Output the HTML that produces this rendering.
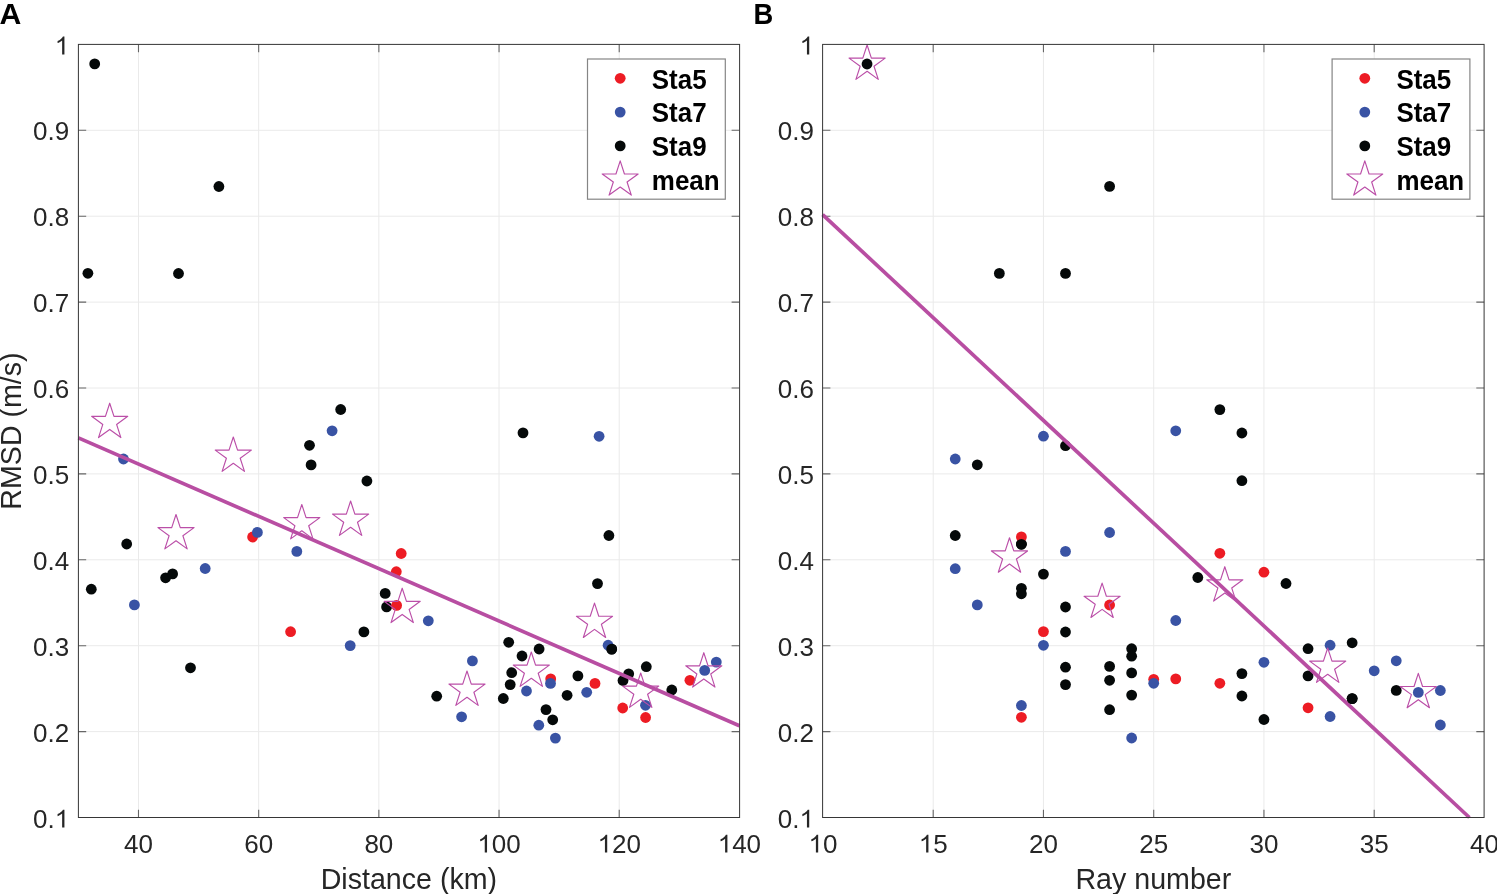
<!DOCTYPE html>
<html><head><meta charset="utf-8"><title>RMSD scatter</title>
<style>html,body{margin:0;padding:0;background:#fff;}body{width:1497px;height:894px;overflow:hidden;}svg{display:block;will-change:transform;font-family:"Liberation Sans",sans-serif;}</style>
</head><body>
<svg width="1497" height="894" viewBox="0 0 1497 894">
<rect x="0" y="0" width="1497" height="894" fill="#fff"/>
<path d="M138.49 44.4 V817.5 M258.67 44.4 V817.5 M378.85 44.4 V817.5 M499.04 44.4 V817.5 M619.22 44.4 V817.5 M78.4 731.6 H739.4 M78.4 645.7 H739.4 M78.4 559.8 H739.4 M78.4 473.9 H739.4 M78.4 388 H739.4 M78.4 302.1 H739.4 M78.4 216.2 H739.4 M78.4 130.3 H739.4" stroke="#eaeaea" stroke-width="1" fill="none"/>
<path d="M138.49 817.5 v-7.8 M138.49 44.4 v7.8 M258.67 817.5 v-7.8 M258.67 44.4 v7.8 M378.85 817.5 v-7.8 M378.85 44.4 v7.8 M499.04 817.5 v-7.8 M499.04 44.4 v7.8 M619.22 817.5 v-7.8 M619.22 44.4 v7.8 M78.4 731.6 h7.8 M739.4 731.6 h-7.8 M78.4 645.7 h7.8 M739.4 645.7 h-7.8 M78.4 559.8 h7.8 M739.4 559.8 h-7.8 M78.4 473.9 h7.8 M739.4 473.9 h-7.8 M78.4 388 h7.8 M739.4 388 h-7.8 M78.4 302.1 h7.8 M739.4 302.1 h-7.8 M78.4 216.2 h7.8 M739.4 216.2 h-7.8 M78.4 130.3 h7.8 M739.4 130.3 h-7.8" stroke="#666666" stroke-width="1.1" fill="none"/>
<g>
<circle cx="94.7" cy="63.9" r="5.4" fill="#050909"/>
<circle cx="218.9" cy="186.5" r="5.4" fill="#050909"/>
<circle cx="87.9" cy="273.3" r="5.4" fill="#050909"/>
<circle cx="178.5" cy="273.5" r="5.4" fill="#050909"/>
<circle cx="340.7" cy="409.5" r="5.4" fill="#050909"/>
<circle cx="309.5" cy="445.3" r="5.4" fill="#050909"/>
<circle cx="311.1" cy="464.9" r="5.4" fill="#050909"/>
<circle cx="366.9" cy="481" r="5.4" fill="#050909"/>
<circle cx="126.7" cy="544" r="5.4" fill="#050909"/>
<circle cx="523" cy="432.9" r="5.4" fill="#050909"/>
<circle cx="608.9" cy="535.5" r="5.4" fill="#050909"/>
<circle cx="91.3" cy="589.2" r="5.4" fill="#050909"/>
<circle cx="165.6" cy="577.8" r="5.4" fill="#050909"/>
<circle cx="172.6" cy="573.9" r="5.4" fill="#050909"/>
<circle cx="190.5" cy="667.8" r="5.4" fill="#050909"/>
<circle cx="363.9" cy="631.9" r="5.4" fill="#050909"/>
<circle cx="385.2" cy="593.4" r="5.4" fill="#050909"/>
<circle cx="386.6" cy="606.9" r="5.4" fill="#050909"/>
<circle cx="597.5" cy="583.6" r="5.4" fill="#050909"/>
<circle cx="508.7" cy="642.3" r="5.4" fill="#050909"/>
<circle cx="522" cy="656" r="5.4" fill="#050909"/>
<circle cx="511.7" cy="672.7" r="5.4" fill="#050909"/>
<circle cx="510.2" cy="684.6" r="5.4" fill="#050909"/>
<circle cx="436.7" cy="696.2" r="5.4" fill="#050909"/>
<circle cx="503.3" cy="698.5" r="5.4" fill="#050909"/>
<circle cx="539.1" cy="649" r="5.4" fill="#050909"/>
<circle cx="577.9" cy="675.9" r="5.4" fill="#050909"/>
<circle cx="567.1" cy="695.3" r="5.4" fill="#050909"/>
<circle cx="546" cy="709.6" r="5.4" fill="#050909"/>
<circle cx="552.7" cy="719.8" r="5.4" fill="#050909"/>
<circle cx="611.7" cy="649.1" r="5.4" fill="#050909"/>
<circle cx="628.7" cy="673.8" r="5.4" fill="#050909"/>
<circle cx="623" cy="680.5" r="5.4" fill="#050909"/>
<circle cx="646.3" cy="666.7" r="5.4" fill="#050909"/>
<circle cx="671.8" cy="690" r="5.4" fill="#050909"/>
<circle cx="252.6" cy="537" r="5.4" fill="#ed1c24"/>
<circle cx="401.2" cy="553.5" r="5.4" fill="#ed1c24"/>
<circle cx="396.3" cy="571.7" r="5.4" fill="#ed1c24"/>
<circle cx="396.6" cy="605.4" r="5.4" fill="#ed1c24"/>
<circle cx="290.6" cy="631.7" r="5.4" fill="#ed1c24"/>
<circle cx="550.7" cy="678.9" r="5.4" fill="#ed1c24"/>
<circle cx="595" cy="683.4" r="5.4" fill="#ed1c24"/>
<circle cx="622.7" cy="708" r="5.4" fill="#ed1c24"/>
<circle cx="645.6" cy="717.5" r="5.4" fill="#ed1c24"/>
<circle cx="689.9" cy="680.3" r="5.4" fill="#ed1c24"/>
<circle cx="123.5" cy="459" r="5.4" fill="#3953a4"/>
<circle cx="332.1" cy="430.8" r="5.4" fill="#3953a4"/>
<circle cx="257.4" cy="532.4" r="5.4" fill="#3953a4"/>
<circle cx="296.8" cy="551.4" r="5.4" fill="#3953a4"/>
<circle cx="205.2" cy="568.5" r="5.4" fill="#3953a4"/>
<circle cx="134.4" cy="604.9" r="5.4" fill="#3953a4"/>
<circle cx="350.2" cy="645.6" r="5.4" fill="#3953a4"/>
<circle cx="428.3" cy="620.8" r="5.4" fill="#3953a4"/>
<circle cx="599.1" cy="436.3" r="5.4" fill="#3953a4"/>
<circle cx="472.4" cy="660.9" r="5.4" fill="#3953a4"/>
<circle cx="526.5" cy="691" r="5.4" fill="#3953a4"/>
<circle cx="550.5" cy="683.4" r="5.4" fill="#3953a4"/>
<circle cx="586.7" cy="692.3" r="5.4" fill="#3953a4"/>
<circle cx="608.1" cy="645.2" r="5.4" fill="#3953a4"/>
<circle cx="645.5" cy="705.3" r="5.4" fill="#3953a4"/>
<circle cx="461.6" cy="716.8" r="5.4" fill="#3953a4"/>
<circle cx="538.8" cy="725.2" r="5.4" fill="#3953a4"/>
<circle cx="555.4" cy="738.1" r="5.4" fill="#3953a4"/>
<circle cx="704.7" cy="670.4" r="5.4" fill="#3953a4"/>
<circle cx="716.3" cy="662.1" r="5.4" fill="#3953a4"/>
</g>
<line x1="78.4" y1="437.9" x2="739.4" y2="725.7" stroke="#b84ea2" stroke-width="3.7"/>
<circle cx="611.7" cy="649.1" r="5.4" fill="#050909"/>
<path d="M109.7 403.2 L113.97 416.33 L127.77 416.33 L116.6 424.44 L120.87 437.57 L109.7 429.46 L98.53 437.57 L102.8 424.44 L91.63 416.33 L105.43 416.33 Z" fill="none" stroke="#bb4fa8" stroke-width="1.15" stroke-linejoin="round"/>
<path d="M233.3 437 L237.57 450.13 L251.37 450.13 L240.2 458.24 L244.47 471.37 L233.3 463.26 L222.13 471.37 L226.4 458.24 L215.23 450.13 L229.03 450.13 Z" fill="none" stroke="#bb4fa8" stroke-width="1.15" stroke-linejoin="round"/>
<path d="M176 514.5 L180.27 527.63 L194.07 527.63 L182.9 535.74 L187.17 548.87 L176 540.76 L164.83 548.87 L169.1 535.74 L157.93 527.63 L171.73 527.63 Z" fill="none" stroke="#bb4fa8" stroke-width="1.15" stroke-linejoin="round"/>
<path d="M301.8 504.5 L306.07 517.63 L319.87 517.63 L308.7 525.74 L312.97 538.87 L301.8 530.76 L290.63 538.87 L294.9 525.74 L283.73 517.63 L297.53 517.63 Z" fill="none" stroke="#bb4fa8" stroke-width="1.15" stroke-linejoin="round"/>
<path d="M350.6 501 L354.87 514.13 L368.67 514.13 L357.5 522.24 L361.77 535.37 L350.6 527.26 L339.43 535.37 L343.7 522.24 L332.53 514.13 L346.33 514.13 Z" fill="none" stroke="#bb4fa8" stroke-width="1.15" stroke-linejoin="round"/>
<path d="M402.2 588.2 L406.47 601.33 L420.27 601.33 L409.1 609.44 L413.37 622.57 L402.2 614.46 L391.03 622.57 L395.3 609.44 L384.13 601.33 L397.93 601.33 Z" fill="none" stroke="#bb4fa8" stroke-width="1.15" stroke-linejoin="round"/>
<path d="M467 671 L471.27 684.13 L485.07 684.13 L473.9 692.24 L478.17 705.37 L467 697.26 L455.83 705.37 L460.1 692.24 L448.93 684.13 L462.73 684.13 Z" fill="none" stroke="#bb4fa8" stroke-width="1.15" stroke-linejoin="round"/>
<path d="M531.3 652 L535.57 665.13 L549.37 665.13 L538.2 673.24 L542.47 686.37 L531.3 678.26 L520.13 686.37 L524.4 673.24 L513.23 665.13 L527.03 665.13 Z" fill="none" stroke="#bb4fa8" stroke-width="1.15" stroke-linejoin="round"/>
<path d="M594.5 603.1 L598.77 616.23 L612.57 616.23 L601.4 624.34 L605.67 637.47 L594.5 629.36 L583.33 637.47 L587.6 624.34 L576.43 616.23 L590.23 616.23 Z" fill="none" stroke="#bb4fa8" stroke-width="1.15" stroke-linejoin="round"/>
<path d="M640.7 673 L644.97 686.13 L658.77 686.13 L647.6 694.24 L651.87 707.37 L640.7 699.26 L629.53 707.37 L633.8 694.24 L622.63 686.13 L636.43 686.13 Z" fill="none" stroke="#bb4fa8" stroke-width="1.15" stroke-linejoin="round"/>
<path d="M703.8 652.7 L708.07 665.83 L721.87 665.83 L710.7 673.94 L714.97 687.07 L703.8 678.96 L692.63 687.07 L696.9 673.94 L685.73 665.83 L699.53 665.83 Z" fill="none" stroke="#bb4fa8" stroke-width="1.15" stroke-linejoin="round"/>
<rect x="78.4" y="44.4" width="661.2" height="773.1" fill="none" stroke="#363636" stroke-width="1.0"/>
<g font-size="26" fill="#262626"><text x="124.03" y="852.6">40</text><text x="244.21" y="852.6">60</text><text x="364.39" y="852.6">80</text><path transform="translate(477.35 852.6) scale(0.012695 -0.012124)" d="M763 0H583V1147Q518 1085 412.5 1023T223 930V1104Q374 1175 487 1276T647 1472H763V0Z"/><text x="491.81" y="852.6">00</text><path transform="translate(597.53 852.6) scale(0.012695 -0.012124)" d="M763 0H583V1147Q518 1085 412.5 1023T223 930V1104Q374 1175 487 1276T647 1472H763V0Z"/><text x="611.99" y="852.6">20</text><path transform="translate(717.71 852.6) scale(0.012695 -0.012124)" d="M763 0H583V1147Q518 1085 412.5 1023T223 930V1104Q374 1175 487 1276T647 1472H763V0Z"/><text x="732.17" y="852.6">40</text><text x="33.06" y="827.5">0.</text><path transform="translate(54.74 827.5) scale(0.012695 -0.012124)" d="M763 0H583V1147Q518 1085 412.5 1023T223 930V1104Q374 1175 487 1276T647 1472H763V0Z"/><text x="33.06" y="741.6">0.2</text><text x="33.06" y="655.7">0.3</text><text x="33.06" y="569.8">0.4</text><text x="33.06" y="483.9">0.5</text><text x="33.06" y="398">0.6</text><text x="33.06" y="312.1">0.7</text><text x="33.06" y="226.2">0.8</text><text x="33.06" y="140.3">0.9</text><path transform="translate(54.74 54.4) scale(0.012695 -0.012124)" d="M763 0H583V1147Q518 1085 412.5 1023T223 930V1104Q374 1175 487 1276T647 1472H763V0Z"/></g>
<rect x="587.5" y="59" width="137.8" height="140.2" fill="#fff" stroke="#858585" stroke-width="1.2"/>
<circle cx="620.2" cy="78.3" r="5.4" fill="#ed1c24"/>
<circle cx="620.2" cy="112.1" r="5.4" fill="#3953a4"/>
<circle cx="620.2" cy="145.9" r="5.4" fill="#050909"/>
<path d="M620.2 160.9 L624.44 173.96 L638.17 173.96 L627.07 182.03 L631.31 195.09 L620.2 187.02 L609.09 195.09 L613.33 182.03 L602.23 173.96 L615.96 173.96 Z" fill="none" stroke="#bb4fa8" stroke-width="1.15" stroke-linejoin="round"/>
<g font-size="27.2" font-weight="bold" fill="#000"><text transform="translate(651.8 88.6) scale(0.955 1)">Sta5</text><text transform="translate(651.8 122.4) scale(0.955 1)">Sta7</text><text transform="translate(651.8 156.2) scale(0.955 1)">Sta9</text><text transform="translate(651.8 190.1) scale(0.955 1)">mean</text></g>
<path d="M933.2 44.4 V817.5 M1043.45 44.4 V817.5 M1153.7 44.4 V817.5 M1263.95 44.4 V817.5 M1374.2 44.4 V817.5 M822.6 731.6 H1484.1 M822.6 645.7 H1484.1 M822.6 559.8 H1484.1 M822.6 473.9 H1484.1 M822.6 388 H1484.1 M822.6 302.1 H1484.1 M822.6 216.2 H1484.1 M822.6 130.3 H1484.1" stroke="#eaeaea" stroke-width="1" fill="none"/>
<path d="M933.2 817.5 v-7.8 M933.2 44.4 v7.8 M1043.45 817.5 v-7.8 M1043.45 44.4 v7.8 M1153.7 817.5 v-7.8 M1153.7 44.4 v7.8 M1263.95 817.5 v-7.8 M1263.95 44.4 v7.8 M1374.2 817.5 v-7.8 M1374.2 44.4 v7.8 M822.6 731.6 h7.8 M1484.1 731.6 h-7.8 M822.6 645.7 h7.8 M1484.1 645.7 h-7.8 M822.6 559.8 h7.8 M1484.1 559.8 h-7.8 M822.6 473.9 h7.8 M1484.1 473.9 h-7.8 M822.6 388 h7.8 M1484.1 388 h-7.8 M822.6 302.1 h7.8 M1484.1 302.1 h-7.8 M822.6 216.2 h7.8 M1484.1 216.2 h-7.8 M822.6 130.3 h7.8 M1484.1 130.3 h-7.8" stroke="#666666" stroke-width="1.1" fill="none"/>
<g>
<circle cx="867.05" cy="64" r="5.4" fill="#050909"/>
<circle cx="1109.6" cy="186.4" r="5.4" fill="#050909"/>
<circle cx="999.35" cy="273.4" r="5.4" fill="#050909"/>
<circle cx="1065.5" cy="273.4" r="5.4" fill="#050909"/>
<circle cx="1065.5" cy="445.7" r="5.4" fill="#050909"/>
<circle cx="977.3" cy="464.8" r="5.4" fill="#050909"/>
<circle cx="1219.85" cy="409.6" r="5.4" fill="#050909"/>
<circle cx="1241.9" cy="433" r="5.4" fill="#050909"/>
<circle cx="1241.9" cy="480.7" r="5.4" fill="#050909"/>
<circle cx="955.25" cy="535.5" r="5.4" fill="#050909"/>
<circle cx="1021.4" cy="544.1" r="5.4" fill="#050909"/>
<circle cx="1043.45" cy="574.1" r="5.4" fill="#050909"/>
<circle cx="1197.8" cy="577.5" r="5.4" fill="#050909"/>
<circle cx="1021.4" cy="588.3" r="5.4" fill="#050909"/>
<circle cx="1021.4" cy="593.8" r="5.4" fill="#050909"/>
<circle cx="1065.5" cy="607" r="5.4" fill="#050909"/>
<circle cx="1065.5" cy="632" r="5.4" fill="#050909"/>
<circle cx="1131.65" cy="648.7" r="5.4" fill="#050909"/>
<circle cx="1131.65" cy="656.2" r="5.4" fill="#050909"/>
<circle cx="1065.5" cy="667.2" r="5.4" fill="#050909"/>
<circle cx="1109.6" cy="666.4" r="5.4" fill="#050909"/>
<circle cx="1131.65" cy="672.9" r="5.4" fill="#050909"/>
<circle cx="1109.6" cy="680.3" r="5.4" fill="#050909"/>
<circle cx="1065.5" cy="684.6" r="5.4" fill="#050909"/>
<circle cx="1131.65" cy="695.1" r="5.4" fill="#050909"/>
<circle cx="1109.6" cy="709.7" r="5.4" fill="#050909"/>
<circle cx="1286" cy="583.5" r="5.4" fill="#050909"/>
<circle cx="1241.9" cy="673.6" r="5.4" fill="#050909"/>
<circle cx="1241.9" cy="696" r="5.4" fill="#050909"/>
<circle cx="1263.95" cy="719.5" r="5.4" fill="#050909"/>
<circle cx="1308.05" cy="648.7" r="5.4" fill="#050909"/>
<circle cx="1352.15" cy="642.8" r="5.4" fill="#050909"/>
<circle cx="1308.05" cy="675.9" r="5.4" fill="#050909"/>
<circle cx="1396.25" cy="690.4" r="5.4" fill="#050909"/>
<circle cx="1352.15" cy="698.6" r="5.4" fill="#050909"/>
<circle cx="1021.4" cy="536.9" r="5.4" fill="#ed1c24"/>
<circle cx="1109.6" cy="605" r="5.4" fill="#ed1c24"/>
<circle cx="1043.45" cy="631.6" r="5.4" fill="#ed1c24"/>
<circle cx="1153.7" cy="679.3" r="5.4" fill="#ed1c24"/>
<circle cx="1175.75" cy="678.9" r="5.4" fill="#ed1c24"/>
<circle cx="1021.4" cy="717.3" r="5.4" fill="#ed1c24"/>
<circle cx="1219.85" cy="553.3" r="5.4" fill="#ed1c24"/>
<circle cx="1263.95" cy="572.2" r="5.4" fill="#ed1c24"/>
<circle cx="1219.85" cy="683.3" r="5.4" fill="#ed1c24"/>
<circle cx="1308.05" cy="707.8" r="5.4" fill="#ed1c24"/>
<circle cx="955.25" cy="459" r="5.4" fill="#3953a4"/>
<circle cx="1043.45" cy="436.2" r="5.4" fill="#3953a4"/>
<circle cx="1175.75" cy="430.8" r="5.4" fill="#3953a4"/>
<circle cx="1109.6" cy="532.5" r="5.4" fill="#3953a4"/>
<circle cx="1065.5" cy="551.4" r="5.4" fill="#3953a4"/>
<circle cx="955.25" cy="568.7" r="5.4" fill="#3953a4"/>
<circle cx="977.3" cy="604.9" r="5.4" fill="#3953a4"/>
<circle cx="1043.45" cy="645.3" r="5.4" fill="#3953a4"/>
<circle cx="1175.75" cy="620.5" r="5.4" fill="#3953a4"/>
<circle cx="1153.7" cy="683.3" r="5.4" fill="#3953a4"/>
<circle cx="1021.4" cy="705.5" r="5.4" fill="#3953a4"/>
<circle cx="1131.65" cy="738" r="5.4" fill="#3953a4"/>
<circle cx="1263.95" cy="662.3" r="5.4" fill="#3953a4"/>
<circle cx="1330.1" cy="645.2" r="5.4" fill="#3953a4"/>
<circle cx="1374.2" cy="670.8" r="5.4" fill="#3953a4"/>
<circle cx="1396.25" cy="660.8" r="5.4" fill="#3953a4"/>
<circle cx="1418.3" cy="692.4" r="5.4" fill="#3953a4"/>
<circle cx="1440.35" cy="690.5" r="5.4" fill="#3953a4"/>
<circle cx="1330.1" cy="716.5" r="5.4" fill="#3953a4"/>
<circle cx="1440.35" cy="725" r="5.4" fill="#3953a4"/>
</g>
<circle cx="1021.4" cy="544.3" r="5.4" fill="#050909"/>
<line x1="822.6" y1="214.6" x2="1469.4" y2="817.5" stroke="#b84ea2" stroke-width="3.7"/>
<circle cx="1352.15" cy="698.6" r="5.4" fill="#050909"/>
<path d="M867.1 45 L871.37 58.13 L885.17 58.13 L874 66.24 L878.27 79.37 L867.1 71.26 L855.93 79.37 L860.2 66.24 L849.03 58.13 L862.83 58.13 Z" fill="none" stroke="#bb4fa8" stroke-width="1.15" stroke-linejoin="round"/>
<path d="M1009.5 537.8 L1013.77 550.93 L1027.57 550.93 L1016.4 559.04 L1020.67 572.17 L1009.5 564.06 L998.33 572.17 L1002.6 559.04 L991.43 550.93 L1005.23 550.93 Z" fill="none" stroke="#bb4fa8" stroke-width="1.15" stroke-linejoin="round"/>
<path d="M1102.1 583.1 L1106.37 596.23 L1120.17 596.23 L1109 604.34 L1113.27 617.47 L1102.1 609.36 L1090.93 617.47 L1095.2 604.34 L1084.03 596.23 L1097.83 596.23 Z" fill="none" stroke="#bb4fa8" stroke-width="1.15" stroke-linejoin="round"/>
<path d="M1224.8 566.7 L1229.07 579.83 L1242.87 579.83 L1231.7 587.94 L1235.97 601.07 L1224.8 592.96 L1213.63 601.07 L1217.9 587.94 L1206.73 579.83 L1220.53 579.83 Z" fill="none" stroke="#bb4fa8" stroke-width="1.15" stroke-linejoin="round"/>
<path d="M1327.7 648 L1331.97 661.13 L1345.77 661.13 L1334.6 669.24 L1338.87 682.37 L1327.7 674.26 L1316.53 682.37 L1320.8 669.24 L1309.63 661.13 L1323.43 661.13 Z" fill="none" stroke="#bb4fa8" stroke-width="1.15" stroke-linejoin="round"/>
<path d="M1418.3 673.4 L1422.57 686.53 L1436.37 686.53 L1425.2 694.64 L1429.47 707.77 L1418.3 699.66 L1407.13 707.77 L1411.4 694.64 L1400.23 686.53 L1414.03 686.53 Z" fill="none" stroke="#bb4fa8" stroke-width="1.15" stroke-linejoin="round"/>
<rect x="822.6" y="44.4" width="661.5" height="773.1" fill="none" stroke="#363636" stroke-width="1.0"/>
<g font-size="26" fill="#262626"><path transform="translate(808.49 852.6) scale(0.012695 -0.012124)" d="M763 0H583V1147Q518 1085 412.5 1023T223 930V1104Q374 1175 487 1276T647 1472H763V0Z"/><text x="822.95" y="852.6">0</text><path transform="translate(918.74 852.6) scale(0.012695 -0.012124)" d="M763 0H583V1147Q518 1085 412.5 1023T223 930V1104Q374 1175 487 1276T647 1472H763V0Z"/><text x="933.2" y="852.6">5</text><text x="1028.99" y="852.6">20</text><text x="1139.24" y="852.6">25</text><text x="1249.49" y="852.6">30</text><text x="1359.74" y="852.6">35</text><text x="1469.99" y="852.6">40</text><text x="777.86" y="827.5">0.</text><path transform="translate(799.54 827.5) scale(0.012695 -0.012124)" d="M763 0H583V1147Q518 1085 412.5 1023T223 930V1104Q374 1175 487 1276T647 1472H763V0Z"/><text x="777.86" y="741.6">0.2</text><text x="777.86" y="655.7">0.3</text><text x="777.86" y="569.8">0.4</text><text x="777.86" y="483.9">0.5</text><text x="777.86" y="398">0.6</text><text x="777.86" y="312.1">0.7</text><text x="777.86" y="226.2">0.8</text><text x="777.86" y="140.3">0.9</text><path transform="translate(799.54 54.4) scale(0.012695 -0.012124)" d="M763 0H583V1147Q518 1085 412.5 1023T223 930V1104Q374 1175 487 1276T647 1472H763V0Z"/></g>
<rect x="1332.1" y="59" width="137.8" height="140.2" fill="#fff" stroke="#858585" stroke-width="1.2"/>
<circle cx="1364.8" cy="78.3" r="5.4" fill="#ed1c24"/>
<circle cx="1364.8" cy="112.1" r="5.4" fill="#3953a4"/>
<circle cx="1364.8" cy="145.9" r="5.4" fill="#050909"/>
<path d="M1364.8 160.9 L1369.04 173.96 L1382.77 173.96 L1371.67 182.03 L1375.91 195.09 L1364.8 187.02 L1353.69 195.09 L1357.93 182.03 L1346.83 173.96 L1360.56 173.96 Z" fill="none" stroke="#bb4fa8" stroke-width="1.15" stroke-linejoin="round"/>
<g font-size="27.2" font-weight="bold" fill="#000"><text transform="translate(1396.4 88.6) scale(0.955 1)">Sta5</text><text transform="translate(1396.4 122.4) scale(0.955 1)">Sta7</text><text transform="translate(1396.4 156.2) scale(0.955 1)">Sta9</text><text transform="translate(1396.4 190.1) scale(0.955 1)">mean</text></g>
<g font-size="28.6" fill="#262626">
<text x="408.9" y="888.6" text-anchor="middle">Distance (km)</text>
<text x="1153.35" y="888.6" text-anchor="middle">Ray number</text>
<text transform="translate(20.6 431) rotate(-90)" text-anchor="middle">RMSD (m/s)</text>
</g>
<g font-size="30.2" font-weight="bold" fill="#000">
<text x="-0.6" y="23.8">A</text>
<text transform="translate(753.5 23.8) scale(0.905 1)">B</text>
</g>
</svg>
</body></html>
